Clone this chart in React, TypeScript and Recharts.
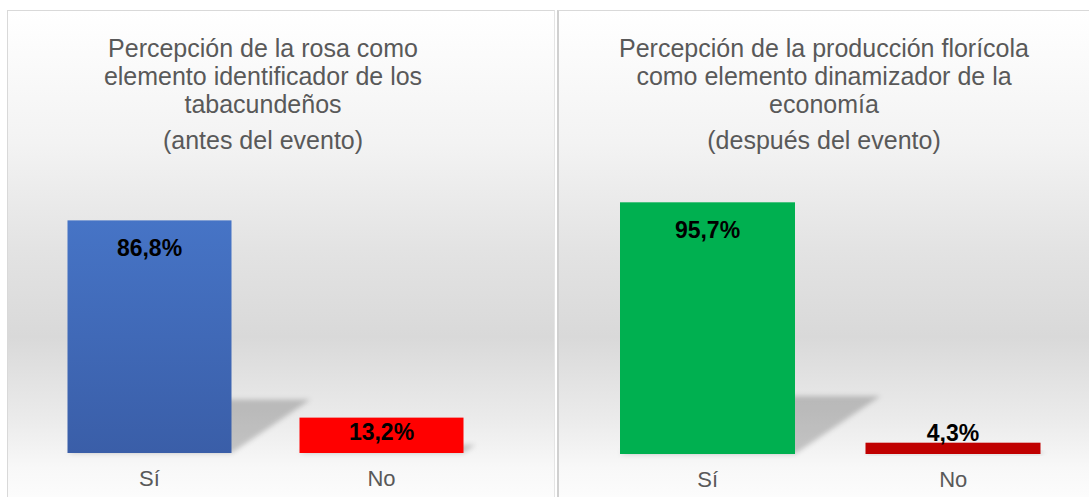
import { BarChart, Bar, XAxis, YAxis, LabelList } from 'recharts';

const categories = ['Sí', 'No'];
const antesValues = [86.8, 13.2];
const despuesValues = [95.7, 4.3];

const antesTitle = ['Percepción de la rosa como', 'elemento identificador de los', 'tabacundeños', '(antes del evento)'];
const despuesTitle = ['Percepción de la producción florícola', 'como elemento dinamizador de la', 'economía', '(después del evento)'];

const antesColors = ['url(#siAzul)', '#ff0000'];
const despuesColors = ['#00b050', '#c00000'];

const FONT = '"Liberation Sans", Arial, sans-serif';

const fmt = (v: number) => v.toFixed(1).replace('.', ',') + '%';

function makeShape(colors: string[], blurId: string) {
  return (props: any) => {
    const { x, y, width, height, index } = props;
    const b = y + height;
    const dx = height * 0.34;
    const dy = height * 0.23;
    const pts = `${x},${b} ${x + width},${b} ${x + width + dx},${b - dy} ${x + dx},${b - dy}`;
    return (
      <g>
        <polygon points={pts} fill="#000" fillOpacity={0.2} filter={`url(#${blurId})`} />
        <rect x={x} y={y} width={width} height={height} fill={colors[index]} />
      </g>
    );
  };
}

const renderLabel = (props: any) => {
  const { x, y, width, height, value } = props;
  let base: number;
  if (height >= 60) base = y + 36;
  else if (height >= 25) base = y + height - 13;
  else base = y - 2;
  return (
    <text x={x + width / 2} y={base} textAnchor="middle" fontFamily={FONT} fontSize={23} fontWeight="bold" fill="#000">
      {fmt(value)}
    </text>
  );
};

const renderTick = (props: any) => {
  const { x, y, payload } = props;
  return (
    <text x={x} y={y + 33} textAnchor="middle" fontFamily={FONT} fontSize={22} fill="#595959">
      {payload.value}
    </text>
  );
};

interface PanelProps {
  left: number;
  width: number;
  title: string[];
  titleX: number;
  values: number[];
  colors: string[];
  margin: { top: number; right: number; left: number };
  axisHeight: number;
  barSize: number;
  id: string;
  borderLeft: string;
}

function Panel({ left, width, title, titleX, values, colors, margin, axisHeight, barSize, id, borderLeft }: PanelProps) {
  const data = categories.map((c, i) => ({ cat: c, value: values[i] }));
  return (
    <div
      style={{
        position: 'absolute',
        left,
        top: 10,
        width,
        height: 487,
        boxSizing: 'border-box',
        borderTop: '1px solid #d9d9d9',
        borderLeft,
        borderRight: '1px solid #e4e4e4',
        background:
          'linear-gradient(to bottom, #ffffff 0%, #f3f3f3 27%, #e3e3e3 49%, #d9d9d9 67%, #ebebeb 84%, #f8f8f8 94%, #fcfcfc 100%)',
      }}
    >
      <div style={{ position: 'absolute', left: titleX - 250, top: 23, width: 500, textAlign: 'center', fontFamily: FONT, fontSize: 25, color: '#595959' }}>
        {title.map((t, i) => (
          <div key={i} style={{ lineHeight: '28px', marginTop: i === 3 ? 8 : 0 }}>{t}</div>
        ))}
      </div>
      <div style={{ position: 'absolute', left: 0, top: 0 }}>
        <BarChart width={width} height={487} data={data} margin={{ ...margin, bottom: 0 }} barSize={barSize}>
          <defs>
            <linearGradient id="siAzul" x1="0" y1="0" x2="0" y2="1">
              <stop offset="0%" stopColor="#4674c6" />
              <stop offset="100%" stopColor="#3a5ea8" />
            </linearGradient>
            <filter id={id} x="-50%" y="-50%" width="200%" height="200%">
              <feGaussianBlur stdDeviation="2.5" />
            </filter>
          </defs>
          <XAxis dataKey="cat" axisLine={false} tickLine={false} tickSize={0} tickMargin={0} height={axisHeight} tick={renderTick} interval={0} />
          <YAxis hide domain={[0, 100]} />
          <Bar dataKey="value" isAnimationActive={false} shape={makeShape(colors, id)}>
            <LabelList dataKey="value" content={renderLabel} />
          </Bar>
        </BarChart>
      </div>
    </div>
  );
}

export default function App() {
  return (
    <div style={{ position: 'absolute', left: 0, top: 0, width: 1089, height: 497, background: '#fff', overflow: 'hidden' }}>
      <Panel
        left={7}
        width={548}
        title={antesTitle}
        titleX={255}
        values={antesValues}
        colors={antesColors}
        margin={{ top: 174, right: 58.5, left: 25.5 }}
        axisHeight={45}
        barSize={164}
        id="sombraAntes"
        borderLeft="1px solid #d9d9d9"
      />
      <Panel
        left={557}
        width={540}
        title={despuesTitle}
        titleX={265}
        values={despuesValues}
        colors={despuesColors}
        margin={{ top: 180, right: 23, left: 26 }}
        axisHeight={44}
        barSize={175}
        id="sombraDespues"
        borderLeft="2px solid #d0d0d0"
      />
    </div>
  );
}
